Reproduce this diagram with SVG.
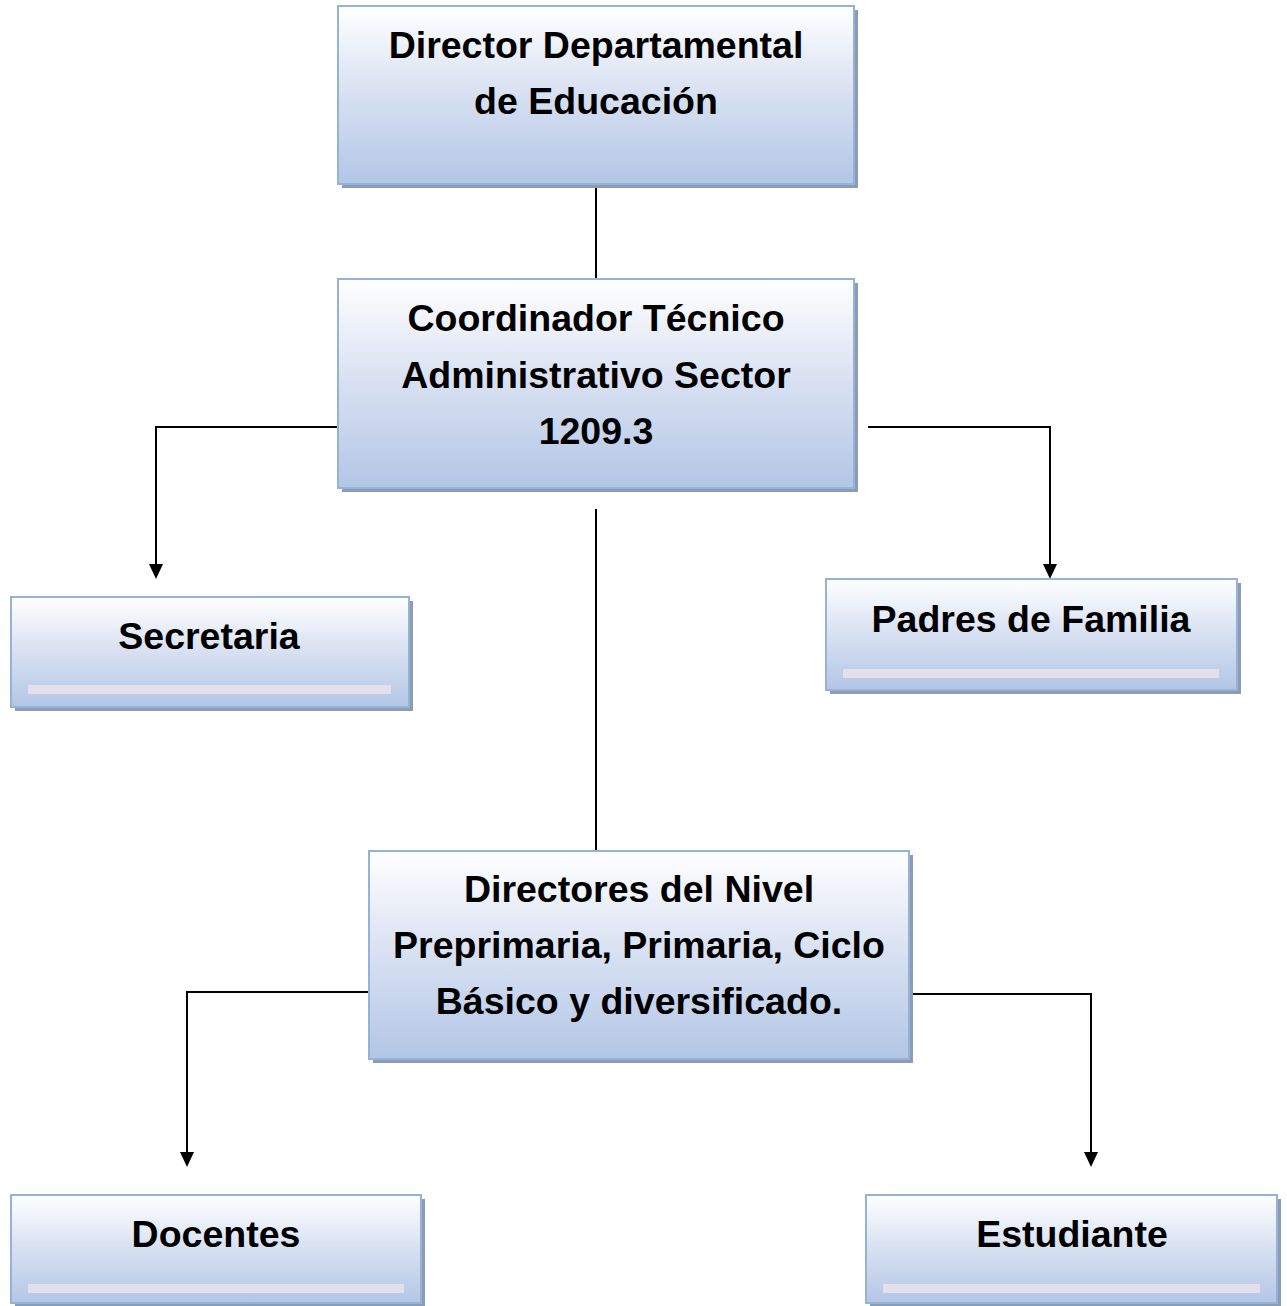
<svg xmlns="http://www.w3.org/2000/svg" width="1287" height="1306" viewBox="0 0 1287 1306">
<style>
.box{fill:url(#g);stroke:#95b3d7;stroke-width:2}
.sh{fill:#8e9bb5}
.bar{fill:#e4dfec}
.t{font-family:"Liberation Sans",Arial,sans-serif;font-weight:bold;font-size:37.5px;fill:#000;text-anchor:middle}
.c{stroke:#000;stroke-width:2;fill:none}
</style>
<defs>
<linearGradient id="g" x1="0" y1="0" x2="0" y2="1">
<stop offset="0" stop-color="#ffffff"/>
<stop offset="0.45" stop-color="#dbe3f3"/>
<stop offset="1" stop-color="#b3c6e6"/>
</linearGradient>
</defs>
<g id="connectors">
<line class="c" x1="596" y1="184" x2="596" y2="279"/>
<polyline class="c" points="338,427 156,427 156,564"/>
<path d="M149,564 L163,564 L156,579 Z" fill="#000"/>
<polyline class="c" points="868,427 1050,427 1050,564"/>
<path d="M1043,564 L1057,564 L1050,579 Z" fill="#000"/>
<line class="c" x1="596" y1="509" x2="596" y2="851"/>
<polyline class="c" points="369,992 187,992 187,1153"/>
<path d="M180,1152 L194,1152 L187,1167 Z" fill="#000"/>
<polyline class="c" points="909,994 1091,994 1091,1153"/>
<path d="M1084,1152 L1098,1152 L1091,1167 Z" fill="#000"/>
</g>
<g id="n1">
<rect class="sh" x="342" y="10" width="516" height="178"/>
<rect class="box" x="338" y="6" width="516" height="178"/>
<text class="t" x="596" y="58">Director Departamental</text>
<text class="t" x="596" y="114">de Educación</text>
</g>
<g id="n2">
<rect class="sh" x="342" y="283" width="516" height="209"/>
<rect class="box" x="338" y="279" width="516" height="209"/>
<text class="t" x="596" y="331">Coordinador Técnico</text>
<text class="t" x="596" y="388">Administrativo Sector</text>
<text class="t" x="596" y="444">1209.3</text>
</g>
<g id="n3">
<rect class="sh" x="15" y="601" width="398" height="110"/>
<rect class="box" x="11" y="597" width="398" height="110"/>
<rect class="bar" x="28" y="685" width="363" height="9"/>
<text class="t" x="209" y="649">Secretaria</text>
</g>
<g id="n4">
<rect class="sh" x="830" y="583" width="411" height="111"/>
<rect class="box" x="826" y="579" width="411" height="111"/>
<rect class="bar" x="843" y="669" width="376" height="9"/>
<text class="t" x="1031" y="632">Padres de Familia</text>
</g>
<g id="n5">
<rect class="sh" x="373" y="855" width="540" height="208"/>
<rect class="box" x="369" y="851" width="540" height="208"/>
<text class="t" x="639" y="902">Directores del Nivel</text>
<text class="t" x="639" y="958">Preprimaria, Primaria, Ciclo</text>
<text class="t" x="639" y="1014">Básico y diversificado.</text>
</g>
<g id="n6">
<rect class="sh" x="15" y="1199" width="410" height="108"/>
<rect class="box" x="11" y="1195" width="410" height="108"/>
<rect class="bar" x="28" y="1284" width="376" height="9"/>
<text class="t" x="216" y="1247">Docentes</text>
</g>
<g id="n7">
<rect class="sh" x="870" y="1199" width="411" height="108"/>
<rect class="box" x="866" y="1195" width="411" height="108"/>
<rect class="bar" x="883" y="1284" width="377" height="9"/>
<text class="t" x="1072" y="1247">Estudiante</text>
</g>
</svg>
